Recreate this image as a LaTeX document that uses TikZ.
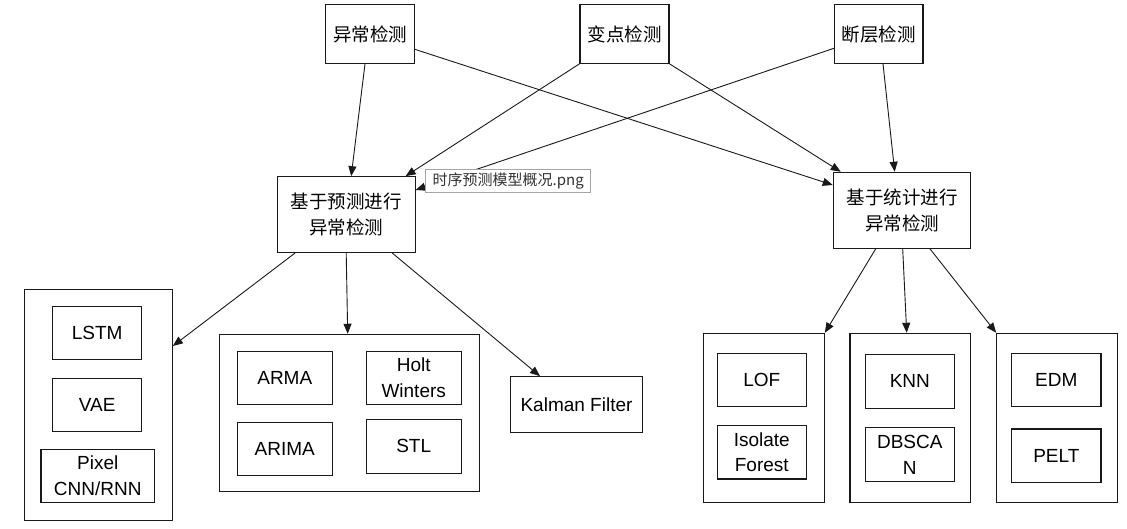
\documentclass[tikz,border=0pt]{standalone}
\usepackage{fontspec}
\setmainfont{Liberation Sans}
\newfontfamily\cjk{Noto Sans CJK SC}
\usetikzlibrary{arrows.meta,calc}
\begin{document}
\begin{tikzpicture}[x=1pt,y=-1pt,
  box/.style={draw=black!90, line width=1.1pt, fill=white, inner sep=0pt, align=center,
    font=\fontsize{19}{25.7}\selectfont},
  cbox/.style={box, font=\cjk\fontsize{18.5}{26}\selectfont},
  arr/.style={-{Triangle[length=10pt,width=8pt]}, line width=0.9pt, draw=black!90},
  lbl/.style={draw=gray!70, line width=0.8pt, fill=white, inner sep=0pt, text=black!80,
    font=\cjk\fontsize{15}{18}\selectfont}
]
\path[use as bounding box, fill=white] (0,0) rectangle (1127,528);

% top
\node[cbox, minimum width=88.5pt, minimum height=58.6pt] (t1) at (370,34) {异常检测};
\node[cbox, minimum width=89pt, minimum height=58.6pt] (t2) at (624.5,34) {变点检测};
\node[cbox, minimum width=88.5pt, minimum height=58.6pt] (t3) at (878.7,34) {断层检测};

% middle
\node[cbox, minimum width=137.7pt, minimum height=75.8pt] (p) at (346.2,214.6) {基于预测进行\\异常检测};
\node[cbox, minimum width=137.4pt, minimum height=76pt] (s) at (902,210.3) {基于统计进行\\异常检测};

% bottom left clusters
\node[box, minimum width=148pt, minimum height=230.7pt] (g1) at (98.3,404.7) {};
\node[box, minimum width=89pt, minimum height=53.3pt] (lstm) at (97.2,332.7) {LSTM};
\node[box, minimum width=89pt, minimum height=53.4pt] (vae) at (97.2,405) {VAE};
\node[box, minimum width=113.7pt, minimum height=53pt] (pix) at (97.8,475.8) {Pixel\\CNN/RNN};

\node[box, minimum width=259.7pt, minimum height=157.4pt] (g2) at (349.2,413) {};
\node[box, minimum width=95pt, minimum height=53.3pt] (arma) at (284.8,377.7) {ARMA};
\node[box, minimum width=95.3pt, minimum height=53.3pt] (holt) at (413.7,377.7) {Holt\\Winters};
\node[box, minimum width=95pt, minimum height=52.7pt] (arima) at (284.8,448.7) {ARIMA};
\node[box, minimum width=95.3pt, minimum height=54pt] (stl) at (413.7,446.3) {STL};

\node[box, minimum width=131.6pt, minimum height=56pt] (kal) at (576.5,404.7) {Kalman Filter};

% bottom right clusters
\node[box, minimum width=121pt, minimum height=169.4pt] (g3) at (763.8,418) {};
\node[box, minimum width=89pt, minimum height=53.4pt] (lof) at (761.8,380) {LOF};
\node[box, minimum width=89pt, minimum height=53.3pt] (iso) at (761.8,452.3) {Isolate\\Forest};

\node[box, minimum width=120.7pt, minimum height=169.4pt] (g4) at (910.3,418) {};
\node[box, minimum width=89pt, minimum height=54pt] (knn) at (909.8,381.3) {KNN};
\node[box, minimum width=89pt, minimum height=54pt] (dbs) at (909.8,454.7) {DBSCA\\N};

\node[box, minimum width=121pt, minimum height=169.4pt] (g5) at (1057.2,418) {};
\node[box, minimum width=89.3pt, minimum height=53.4pt] (edm) at (1056.3,380) {EDM};
\node[box, minimum width=89.3pt, minimum height=53.7pt] (pelt) at (1056.3,455.8) {PELT};

% arrows from top
\draw[arr] ($(t1.south)+(-5,0)$) -- ($(p.north)+(5,0)$);
\draw[arr] ($(t1.east)+(0,15.3)$) -- ($(s.west)+(0,-25.3)$);
\draw[arr] (t2.south west) -- ($(p.north east)+(-10,0)$);
\draw[arr] (t2.south east) -- ($(s.north west)+(8,0)$);
\draw[arr] ($(t3.west)+(0,14.3)$) -- ($(p.east)+(0,-24.6)$);
\draw[arr] ($(t3.south)+(4.3,0)$) -- ($(s.north)+(-7.3,0)$);

% arrows to bottom
\draw[arr] ($(p.south)+(-51.2,0)$) -- ($(g1.east)+(0,-58.7)$);
\draw[arr] (p.south) -- ($(g2.north)+(-1.5,0)$);
\draw[arr] ($(p.south)+(46.1,0)$) -- ($(kal.north)+(-36.5,0)$);
\draw[arr] ($(s.south)+(-26.3,0)$) -- (g3.north east);
\draw[arr] ($(s.south)+(0.7,0)$) -- ($(g4.north)+(-3.6,0)$);
\draw[arr] ($(s.south)+(28,0)$) -- (g5.north west);

% file label
\node[lbl, minimum width=165pt, minimum height=23.3pt] (file) at (508.2,180.7) {时序预测模型概况.png};
\end{tikzpicture}
\end{document}
